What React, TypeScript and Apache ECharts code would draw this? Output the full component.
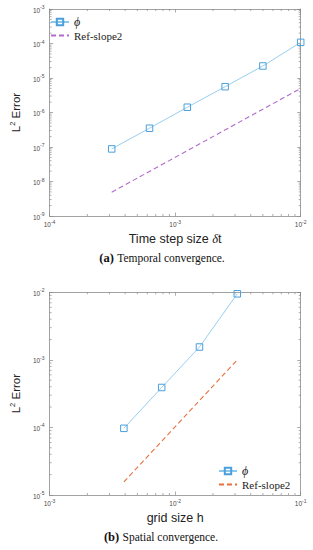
import React, { useEffect, useRef } from 'react';
import * as echarts from 'echarts';

// ---- data ----
const phiA_x = [3.125e-4, 6.25e-4, 1.25e-3, 2.5e-3, 5e-3, 1e-2];
const phiA_y = [8.8e-8, 3.5e-7, 1.42e-6, 5.6e-6, 2.23e-5, 1.08e-4];
const refA_x = [3.125e-4, 1e-2];
const refA_y = [4.9e-9, 5.0e-6];

const phiB_x = [0.00390625, 0.0078125, 0.015625, 0.03125];
const phiB_y = [9.7e-5, 3.9e-4, 1.55e-3, 9.5e-3];
const refB_x = [0.00390625, 0.03125];
const refB_y = [1.56e-5, 1.0e-3];

const xRangeA = [1e-4, 1e-2];
const yRangeA = [1e-9, 1e-3];
const xRangeB = [1e-3, 1e-1];
const yRangeB = [1e-5, 1e-2];
const minorSteps = [2, 3, 4, 5, 6, 7, 8, 9];

const AXIS_COLOR = '#8a8a8a';
const LABEL_COLOR = '#4a4a4a';
const PHI_LINE = '#8cc8ee';
const PHI_MARK = '#4a9fdc';
const REF_A = '#b06ccd';
const REF_B = '#e8703c';

const pairs = (xs: number[], ys: number[]) => xs.map((x, i) => [x, ys[i]]);

const supLabel = (v: number) => {
  const e = Math.round(Math.log10(v));
  return `{b|10}{s|${e}}`;
};

const tickRich = {
  b: { fontSize: 6.5, color: LABEL_COLOR, fontFamily: 'Liberation Sans', lineHeight: 9, verticalAlign: 'bottom' },
  s: { fontSize: 5, color: LABEL_COLOR, fontFamily: 'Liberation Sans', lineHeight: 6, verticalAlign: 'top' },
};

const nameRich = {
  l: { fontSize: 11.5, color: '#222', fontFamily: 'Liberation Sans', lineHeight: 14, verticalAlign: 'bottom' },
  s: { fontSize: 7.5, color: '#222', fontFamily: 'Liberation Sans', lineHeight: 9, verticalAlign: 'top' },
};

const xNameRich = {
  n: { fontSize: 12.5, color: '#222', fontFamily: 'Liberation Sans' },
  d: { fontSize: 12.5, color: '#222', fontFamily: 'Liberation Serif', fontStyle: 'italic' },
};

function minorTicks(xr: number[], yr: number[]) {
  return (_params: any, api: any) => {
    const children: any[] = [];
    const len = 2;
    const bl = api.coord([xr[0], yr[0]]);
    const tr = api.coord([xr[1], yr[1]]);
    const style = { stroke: AXIS_COLOR, lineWidth: 0.7 };
    for (let d = Math.round(Math.log10(xr[0])); d < Math.round(Math.log10(xr[1])); d++) {
      for (const m of minorSteps) {
        const px = api.coord([m * Math.pow(10, d), yr[0]])[0];
        children.push({ type: 'line', shape: { x1: px, y1: bl[1], x2: px, y2: bl[1] - len }, style });
        children.push({ type: 'line', shape: { x1: px, y1: tr[1], x2: px, y2: tr[1] + len }, style });
      }
    }
    for (let d = Math.round(Math.log10(yr[0])); d < Math.round(Math.log10(yr[1])); d++) {
      for (const m of minorSteps) {
        const py = api.coord([xr[0], m * Math.pow(10, d)])[1];
        children.push({ type: 'line', shape: { x1: bl[0], y1: py, x2: bl[0] + len, y2: py }, style });
        children.push({ type: 'line', shape: { x1: tr[0], y1: py, x2: tr[0] - len, y2: py }, style });
      }
    }
    return { type: 'group', children };
  };
}

function xAxisDef(grid: number, r: number[], labels: boolean, name: string) {
  return {
    type: 'log',
    logBase: 10,
    gridIndex: grid,
    min: r[0],
    max: r[1],
    position: labels ? 'bottom' : 'top',
    axisLine: { show: true, lineStyle: { color: AXIS_COLOR, width: 0.8 } },
    axisTick: { show: true, inside: true, length: 3.5, lineStyle: { color: AXIS_COLOR, width: 0.7 } },
    axisLabel: labels
      ? { show: true, formatter: supLabel, rich: tickRich, margin: 3 }
      : { show: false },
    splitLine: { show: false },
    minorTick: { show: false },
    name: labels ? name : '',
    nameLocation: 'middle',
    nameGap: 16,
    nameTextStyle: { rich: xNameRich },
  };
}

function yAxisDef(grid: number, r: number[], labels: boolean) {
  return {
    type: 'log',
    logBase: 10,
    gridIndex: grid,
    min: r[0],
    max: r[1],
    position: labels ? 'left' : 'right',
    axisLine: { show: true, lineStyle: { color: AXIS_COLOR, width: 0.8 } },
    axisTick: { show: true, inside: true, length: 3.5, lineStyle: { color: AXIS_COLOR, width: 0.7 } },
    axisLabel: labels
      ? { show: true, formatter: supLabel, rich: tickRich, margin: 5 }
      : { show: false },
    splitLine: { show: false },
    name: labels ? '{l|L}{s|2}{l| Error}' : '',
    nameLocation: 'middle',
    nameRotate: 90,
    nameGap: 19,
    nameTextStyle: { rich: nameRich },
  };
}

const phiSeries = (name: string, xi: number, yi: number, data: number[][]) => ({
  type: 'line',
  name,
  xAxisIndex: xi,
  yAxisIndex: yi,
  data,
  symbol: 'rect',
  symbolSize: 6.5,
  showSymbol: true,
  lineStyle: { color: PHI_LINE, width: 0.9 },
  itemStyle: { color: 'rgba(255,255,255,0)', borderColor: PHI_MARK, borderWidth: 1 },
  z: 3,
});

const refSeries = (name: string, xi: number, yi: number, data: number[][], color: string) => ({
  type: 'line',
  name,
  xAxisIndex: xi,
  yAxisIndex: yi,
  data,
  symbol: 'none',
  lineStyle: { color, width: 1.1, type: [5, 3] },
  itemStyle: { color: 'rgba(0,0,0,0)', borderWidth: 0 },
  z: 2,
});

const legendFormatter = (n: string) => {
  const base = n.replace(/ \(.\)$/, '');
  return base === 'ϕ' ? '{i|ϕ}' : base;
};

const legendDef = (left: number, top: number, names: string[]) => ({
  data: [
    { name: names[0] },
    { name: names[1], itemStyle: { color: 'rgba(0,0,0,0)', borderWidth: 0, opacity: 0 } },
  ],
  orient: 'vertical',
  left,
  top,
  padding: 0,
  itemGap: 2,
  itemWidth: 18,
  itemHeight: 8,
  formatter: legendFormatter,
  textStyle: {
    fontFamily: 'Liberation Serif',
    fontSize: 11,
    color: '#222',
    rich: { i: { fontFamily: 'Liberation Serif', fontStyle: 'italic', fontSize: 12, color: '#222' } },
  },
});

const captionRich = {
  a: { fontFamily: 'Liberation Serif', fontWeight: 'bold', fontSize: 12.5, fill: '#111' },
  t: { fontFamily: 'Liberation Serif', fontSize: 11.5, fill: '#111' },
};

export default function App() {
  const ref = useRef<HTMLDivElement>(null);
  useEffect(() => {
    document.body.style.margin = '0';
    if (!ref.current) return;
    const chart = echarts.init(ref.current, undefined, { renderer: 'svg' });
    chart.setOption({
      animation: false,
      backgroundColor: '#ffffff',
      grid: [
        { left: 37.7, top: 9, width: 263, height: 207 },
        { left: 37.7, top: 292.3, width: 263, height: 202.7 },
      ],
      xAxis: [
        xAxisDef(0, xRangeA, true, '{n|Time step size }{d|δ}{n|t}'),
        xAxisDef(0, xRangeA, false, ''),
        xAxisDef(1, xRangeB, true, '{n|grid size h}'),
        xAxisDef(1, xRangeB, false, ''),
      ],
      yAxis: [
        yAxisDef(0, yRangeA, true),
        yAxisDef(0, yRangeA, false),
        yAxisDef(1, yRangeB, true),
        yAxisDef(1, yRangeB, false),
      ],
      legend: [
        legendDef(50, 16, ['ϕ (a)', 'Ref-slope2 (a)']),
        legendDef(218, 465, ['ϕ (b)', 'Ref-slope2 (b)']),
      ],
      series: [
        phiSeries('ϕ (a)', 0, 0, pairs(phiA_x, phiA_y)),
        refSeries('Ref-slope2 (a)', 0, 0, pairs(refA_x, refA_y), REF_A),
        phiSeries('ϕ (b)', 2, 2, pairs(phiB_x, phiB_y)),
        refSeries('Ref-slope2 (b)', 2, 2, pairs(refB_x, refB_y), REF_B),
        {
          type: 'custom',
          xAxisIndex: 0,
          yAxisIndex: 0,
          data: [[1e-3, 1e-6]],
          clip: false,
          silent: true,
          renderItem: minorTicks(xRangeA, yRangeA),
        },
        {
          type: 'custom',
          xAxisIndex: 2,
          yAxisIndex: 2,
          data: [[1e-2, 1e-3]],
          clip: false,
          silent: true,
          renderItem: minorTicks(xRangeB, yRangeB),
        },
      ],
      graphic: [
        {
          type: 'text',
          x: 162,
          y: 258,
          style: { text: '{a|(a)} {t|Temporal convergence.}', rich: captionRich, align: 'center', verticalAlign: 'middle' },
        },
        {
          type: 'text',
          x: 161,
          y: 537,
          style: { text: '{a|(b)} {t|Spatial convergence.}', rich: captionRich, align: 'center', verticalAlign: 'middle' },
        },
      ],
    });
    return () => chart.dispose();
  }, []);
  return <div ref={ref} style={{ width: 313, height: 550 }} />;
}
